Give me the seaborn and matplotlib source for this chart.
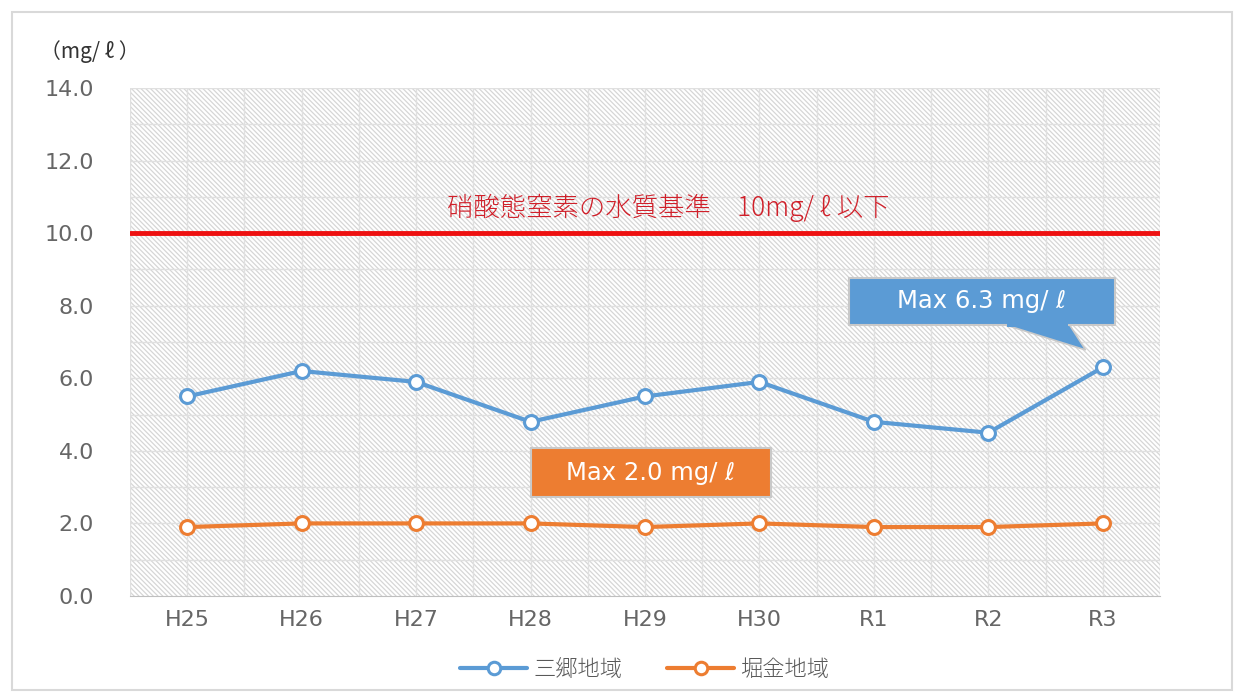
import matplotlib
matplotlib.use('Agg')
import matplotlib.pyplot as plt
import seaborn as sns
import pandas as pd
from matplotlib.patches import Rectangle, Polygon
from matplotlib.lines import Line2D

years = ['H25', 'H26', 'H27', 'H28', 'H29', 'H30', 'R1', 'R2', 'R3']
sango = [5.5, 6.2, 5.9, 4.8, 5.5, 5.9, 4.8, 4.5, 6.3]
horikane = [1.9, 2.0, 2.0, 2.0, 1.9, 2.0, 1.9, 1.9, 2.0]
series_names = ['三郷地域', '堀金地域']
standard = 10.0

BLUE = '#5B9BD5'
ORANGE = '#ED7D31'

sns.set_style('white')
plt.rcParams['font.family'] = ['DejaVu Sans', 'Noto Sans CJK JP']
plt.rcParams['hatch.color'] = '#d6d6d6'
plt.rcParams['hatch.linewidth'] = 0.9

df = pd.DataFrame({'年度': years * 2,
                   '値': sango + horikane,
                   '地域': [series_names[0]] * len(years) + [series_names[1]] * len(years)})

fig = plt.figure(figsize=(12.36, 6.97), dpi=100)
ax = fig.add_axes([130 / 1236, 1 - 596 / 697, 1030 / 1236, 508 / 697])

# hatched plot area
ax.add_patch(Rectangle((0, 0), 1, 1, transform=ax.transAxes, facecolor='white',
                       hatch='\\' * 7, edgecolor='#d6d6d6', linewidth=0, zorder=0))

sns.lineplot(data=df, x='年度', y='値', hue='地域', palette=[BLUE, ORANGE],
             marker='o', markersize=10, markerfacecolor='white', markeredgewidth=2.2,
             linewidth=3, ax=ax, zorder=5, legend=False)
for line, c in zip(ax.get_lines(), [BLUE, ORANGE]):
    line.set_markeredgecolor(c)

ax.set_xlim(-0.5, len(years) - 0.5)
ax.set_ylim(0, 14)
ax.set_yticks([0, 2, 4, 6, 8, 10, 12, 14])
ax.set_yticklabels([f'{v:.1f}' for v in ax.get_yticks()])
ax.set_xlabel('')
ax.set_ylabel('')

# grid lines
for y in range(1, 15):
    ax.axhline(y, color='#e0e0e0', linewidth=1, zorder=1)
for i in range(len(years) * 2 + 1):
    ax.axvline(-0.5 + i * 0.5, color='#e0e0e0', linewidth=1, zorder=1)

for s in ['top', 'right', 'left']:
    ax.spines[s].set_visible(False)
ax.spines['bottom'].set_color('#bfbfbf')
ax.tick_params(axis='both', length=0, labelsize=16, colors='#666666', pad=10)
ax.tick_params(axis='y', pad=26)

# standard line
ax.axhline(standard, color='#ee1111', linewidth=3.5, zorder=4)
ax.text(4.2, 10.7, '硝酸態窒素の水質基準　10mg/ ℓ 以下', color='#d0202a', fontsize=19,
        ha='center', va='center', zorder=6,
        family=['Noto Sans CJK JP', 'DejaVu Sans'], fontweight='light')

# callouts
ax.add_patch(Polygon([(7.15, 7.47), (7.71, 7.47), (7.85, 6.78)], closed=True,
                     facecolor=BLUE, edgecolor='#c9c9c9', linewidth=1.2, zorder=6))
ax.add_patch(Rectangle((5.78, 7.47), 2.33, 1.29, facecolor=BLUE, edgecolor='#c9c9c9',
                       linewidth=1.5, zorder=6))
ax.add_patch(Rectangle((7.16, 7.40), 0.54, 0.12, facecolor=BLUE, edgecolor='none', zorder=7))
ax.text(6.945, 8.12, 'Max 6.3 mg/ ℓ', color='white', fontsize=17.5, ha='center', va='center', zorder=8)

ax.add_patch(Rectangle((3.0, 2.73), 2.1, 1.35, facecolor=ORANGE, edgecolor='#c9c9c9',
                       linewidth=1.5, zorder=6))
ax.text(4.05, 3.4, 'Max 2.0 mg/ ℓ', color='white', fontsize=17.5, ha='center', va='center', zorder=8)

fig.text(40 / 1236, 1 - 52 / 697, '（mg/ ℓ ）', fontsize=15, color='#333333', va='center',
         family=['Noto Sans CJK JP', 'DejaVu Sans'])

handles = [Line2D([], [], color=c, linewidth=3, marker='o', markersize=9,
                  markerfacecolor='white', markeredgecolor=c, markeredgewidth=2.2)
           for c in [BLUE, ORANGE]]
leg = ax.legend(handles, series_names, loc='upper center', bbox_to_anchor=(0.5, -0.085),
                ncol=2, frameon=False, handlelength=3, columnspacing=2.0, handletextpad=0.3,
                prop={'family': ['Noto Sans CJK JP'], 'size': 16, 'weight': 'light'})
for t in leg.get_texts():
    t.set_color('#595959')

# outer frame
fig.patches.append(Rectangle((12 / 1236, 7 / 697), 1220 / 1236, 678 / 697,
                             transform=fig.transFigure, fill=False, edgecolor='#d9d9d9',
                             linewidth=1.5))

fig.savefig('out.png', dpi=100)
